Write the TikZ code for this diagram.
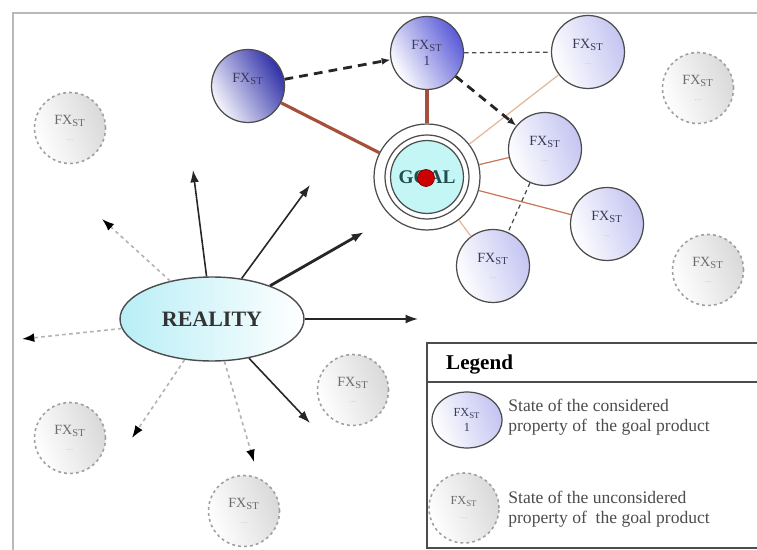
\documentclass[tikz,border=0pt]{standalone}
\usepackage{fontspec}
\setmainfont{Liberation Serif}
\usetikzlibrary{shapes.geometric,arrows.meta}
\definecolor{brownA}{HTML}{A5503A}
\definecolor{brownB}{HTML}{C87858}
\definecolor{brownC}{HTML}{E2B898}
\definecolor{darkblue}{HTML}{3030A8}
\definecolor{midblue}{HTML}{5A5AD8}
\definecolor{lav}{HTML}{C4C4F2}
\definecolor{nodetext}{HTML}{3A3A5A}
\definecolor{goalfill}{HTML}{C4F6F6}
\definecolor{goaltext}{HTML}{1F4F4F}
\definecolor{realfill}{HTML}{B8EEF6}
\newcommand{\dts}{{\color{gray!45}\tiny ...}}
\begin{document}
\begin{tikzpicture}[x=0.02cm,y=-0.02cm,
  stnode/.style={circle, draw=gray!60!black, line width=0.7pt, minimum size=1.46cm, inner sep=0pt,
    align=center, font=\fontsize{8}{8}\selectfont, text=nodetext},
  darknode/.style={stnode, top color=darkblue, bottom color=white!85!lav, shading angle=-60},
  midnode/.style={stnode, top color=midblue, bottom color=white, shading angle=-60},
  lightnode/.style={stnode, top color=lav, bottom color=white, shading angle=-70},
  ghost/.style={circle, draw=gray!75, line width=0.9pt, dash pattern=on 1.6pt off 1.8pt,
    minimum size=1.42cm, inner sep=0pt, align=center, font=\fontsize{8}{8}\selectfont,
    text=gray!85!black, top color=gray!30, bottom color=white, shading angle=-70},
  brownthick/.style={draw=brownA, line width=1.8pt},
  thinbrown/.style={draw=brownB, line width=0.7pt},
  thinlight/.style={draw=brownC, line width=0.7pt},
  thickdash/.style={draw=black!85, line width=1.6pt, dash pattern=on 5pt off 3.5pt},
  thindash/.style={draw=black!70, line width=0.7pt, dash pattern=on 2.5pt off 2pt},
  solidarrow/.style={draw=black!85, line width=0.9pt, -{Latex[length=7pt,width=5pt]}},
  dasharrow/.style={draw=gray!60, line width=0.9pt, dash pattern=on 2pt off 2pt,
    -{Latex[length=7pt,width=5pt,fill=black,color=black]}},
  smalltip/.style={-{Latex[length=5pt,width=4pt]}}
]
\useasboundingbox (0,0) rectangle (757,550);
\fill[white] (0,0) rectangle (757,550);
% frame
\draw[gray!55, line width=1.4pt] (13,550) -- (13,13) -- (757,13);

% considered nodes
\node[darknode] (A) at (248,86) {FX\textsubscript{ST}\\[1pt]\phantom{1}};
\node[midnode] (N1) at (427,53) {FX\textsubscript{ST}\\[1pt]1};
\node[lightnode] (N2) at (588,52) {FX\textsubscript{ST}\\[1pt]\dts};
\node[lightnode] (N3) at (545,149) {FX\textsubscript{ST}\\[1pt]\dts};
\node[lightnode] (N4) at (607,224) {FX\textsubscript{ST}\\[1pt]\dts};
\node[lightnode] (N5) at (493,266) {FX\textsubscript{ST}\\[1pt]\dts};

% unconsidered nodes
\node[ghost] (U1) at (698,88) {FX\textsubscript{ST}\\[1pt]\dts};
\node[ghost] (U2) at (70,128) {FX\textsubscript{ST}\\[1pt]\dts};
\node[ghost] (U3) at (708,270) {FX\textsubscript{ST}\\[1pt]\dts};
\node[ghost] (U4) at (353,390) {FX\textsubscript{ST}\\[1pt]\dts};
\node[ghost] (U5) at (70,438) {FX\textsubscript{ST}\\[1pt]\dts};
\node[ghost] (U6) at (244,511) {FX\textsubscript{ST}\\[1pt]\dts};

% goal
\node[circle, draw=gray!60!black, fill=white, line width=0.7pt, minimum size=2.12cm] (goal) at (427,177) {};
\node[circle, draw=gray!60!black, line width=0.7pt, minimum size=1.68cm] (goalmid) at (427,177) {};
\node[circle, draw=gray!60!black, fill=goalfill, line width=0.7pt, minimum size=1.44cm,
  font=\bfseries\fontsize{11}{11}\selectfont, text=goaltext] (goalin) at (427,177) {GOAL};
\node[circle, fill=red!80!black, draw=red!50!black, line width=0.4pt, minimum size=0.34cm, inner sep=0pt] (dot) at (426,178) {};

% connections
\draw[brownthick] (A) -- (goal);
\draw[brownthick] (N1) -- (goal);
\draw[thinlight] (goal) -- (N2);
\draw[thinbrown] (goal) -- (N3);
\draw[thinbrown] (goal) -- (N4);
\draw[thinlight] (goal) -- (N5);
\draw[thickdash, smalltip] (A) -- (N1);
\draw[thickdash, smalltip] (N1) -- (N3);
\draw[thindash] (N1) -- (N2);
\draw[thindash] (N3) -- (N5);

% reality
\node[ellipse, draw=gray!60!black, line width=0.8pt, minimum width=3.68cm, minimum height=1.68cm,
  left color=realfill, right color=white, font=\bfseries\fontsize{12.5}{12.5}\selectfont, text=black!80] (reality) at (212,319) {REALITY};

\coordinate (t1) at (193,170);
\coordinate (t2) at (310,185);
\coordinate (t3) at (364,232);
\coordinate (t4) at (418,319);
\coordinate (t5) at (310,423);
\coordinate (t6) at (102,219);
\coordinate (t7) at (22,339);
\coordinate (t8) at (132,438);
\coordinate (t9) at (254,462);

\draw[solidarrow] (reality) -- (t1);
\draw[solidarrow] (reality) -- (t2);
\draw[solidarrow, line width=1.6pt] (reality) -- (t3);
\draw[solidarrow] (reality) -- (t4);
\draw[solidarrow] (reality) -- (t5);
\draw[dasharrow] (reality) -- (t6);
\draw[dasharrow] (reality) -- (t7);
\draw[dasharrow] (reality) -- (t8);
\draw[dasharrow] (reality) -- (t9);

% legend
\draw[gray!60!black, line width=0.8pt] (760,343) -- (427,343) -- (427,548) -- (760,548);
\draw[gray!60!black, line width=0.8pt] (427,382) -- (760,382);
\node[anchor=west, font=\bfseries\fontsize{12}{12}\selectfont] (legtitle) at (440,365) {Legend};
\node[ellipse, draw=gray!60!black, line width=0.7pt, minimum width=1.4cm, minimum height=1.12cm, inner sep=0pt,
  align=center, font=\fontsize{7}{7}\selectfont, text=nodetext, top color=lav, bottom color=white, shading angle=-70]
  (L1) at (467,420) {FX\textsubscript{ST}\\[1pt]1};
\node[ghost, minimum size=1.4cm, font=\fontsize{7}{7}\selectfont] (L2) at (464,508) {FX\textsubscript{ST}\\[1pt]\dts};
\node[anchor=west, align=left, font=\fontsize{10}{11.5}\selectfont, text=black!70, inner sep=0pt] (l1text) at (508,417)
  {State of the considered\\property of\ \ the goal product};
\node[anchor=west, align=left, font=\fontsize{10}{11.5}\selectfont, text=black!70, inner sep=0pt] (l2text) at (508,509)
  {State of the unconsidered\\property of\ \ the goal product};
\end{tikzpicture}
\end{document}
